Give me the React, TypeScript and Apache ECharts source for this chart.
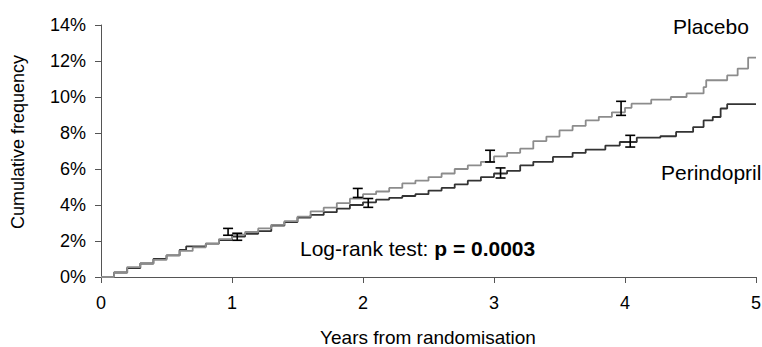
import React, { useEffect, useRef } from "react";
import * as echarts from "echarts";

const xTicks = [0, 1, 2, 3, 4, 5];

const placeboTimes = [0, 0.1, 0.2, 0.3, 0.4, 0.5, 0.6, 0.7, 0.8, 0.9, 1.0, 1.1, 1.2, 1.3, 1.4, 1.5, 1.6, 1.7, 1.8, 1.9, 2.0, 2.1, 2.2, 2.3, 2.4, 2.5, 2.6, 2.7, 2.8, 2.9, 3.0, 3.1, 3.2, 3.3, 3.4, 3.5, 3.6, 3.7, 3.8, 3.9, 4.0, 4.05, 4.2, 4.35, 4.47, 4.6, 4.62, 4.78, 4.86, 4.94, 5.0];
const placeboValues = [0, 0.25, 0.55, 0.75, 0.95, 1.2, 1.45, 1.65, 1.85, 2.1, 2.35, 2.5, 2.7, 2.9, 3.1, 3.35, 3.65, 3.85, 4.1, 4.35, 4.6, 4.75, 4.95, 5.2, 5.35, 5.55, 5.75, 6.0, 6.2, 6.4, 6.7, 6.9, 7.13, 7.55, 7.8, 8.15, 8.4, 8.7, 8.9, 9.15, 9.4, 9.63, 9.85, 10.0, 10.2, 10.55, 10.93, 11.2, 11.58, 12.19, 12.19];

const perindoprilTimes = [0, 0.1, 0.2, 0.3, 0.4, 0.5, 0.6, 0.65, 0.8, 0.9, 1.0, 1.1, 1.2, 1.3, 1.4, 1.5, 1.6, 1.7, 1.8, 1.9, 2.0, 2.1, 2.2, 2.3, 2.4, 2.5, 2.6, 2.7, 2.8, 2.9, 3.0, 3.1, 3.2, 3.3, 3.45, 3.6, 3.7, 3.85, 3.96, 4.09, 4.27, 4.39, 4.52, 4.6, 4.67, 4.73, 4.78, 5.0];
const perindoprilValues = [0, 0.25, 0.5, 0.75, 1.0, 1.2, 1.5, 1.7, 1.85, 2.05, 2.25, 2.4, 2.55, 2.85, 3.05, 3.3, 3.45, 3.6, 3.8, 4.0, 4.15, 4.3, 4.4, 4.5, 4.6, 4.8, 4.95, 5.15, 5.35, 5.55, 5.75, 5.9, 6.2, 6.4, 6.67, 6.9, 7.08, 7.3, 7.5, 7.74, 7.82, 8.06, 8.33, 8.7, 8.89, 9.36, 9.6, 9.6];

// error bars: x position, lower, upper (%)
const placeboBarX = [0.97, 1.96, 2.97, 3.97];
const placeboBarLow = [2.32, 4.42, 6.39, 8.98];
const placeboBarHigh = [2.7, 4.92, 7.04, 9.76];

const perindoprilBarX = [1.04, 2.04, 3.05, 4.04];
const perindoprilBarLow = [2.04, 3.87, 5.5, 7.22];
const perindoprilBarHigh = [2.43, 4.36, 6.06, 7.87];

const FONT = "'Liberation Sans', Arial, sans-serif";

export default function App() {
  const ref = useRef<HTMLDivElement>(null);
  useEffect(() => {
    if (!ref.current) return;
    const chart = echarts.init(ref.current, null, { renderer: "svg" });

    const placeboData = placeboTimes.map((t, i) => [t, placeboValues[i]]);
    const perinData = perindoprilTimes.map((t, i) => [t, perindoprilValues[i]]);
    const barData = [
      ...placeboBarX.map((x, i) => [x, placeboBarLow[i], placeboBarHigh[i]]),
      ...perindoprilBarX.map((x, i) => [x, perindoprilBarLow[i], perindoprilBarHigh[i]]),
    ];

    const renderBar = (params: any, api: any) => {
      const x = api.value(0);
      const lo = api.coord([x, api.value(1)]);
      const hi = api.coord([x, api.value(2)]);
      const w = 5;
      const style = { stroke: "#000", lineWidth: 1.6 };
      return {
        type: "group",
        children: [
          { type: "line", shape: { x1: lo[0], y1: lo[1], x2: hi[0], y2: hi[1] }, style },
          { type: "line", shape: { x1: lo[0] - w, y1: lo[1], x2: lo[0] + w, y2: lo[1] }, style },
          { type: "line", shape: { x1: hi[0] - w, y1: hi[1], x2: hi[0] + w, y2: hi[1] }, style },
        ],
      };
    };

    chart.setOption({
      animation: false,
      backgroundColor: "#fff",
      textStyle: { fontFamily: FONT },
      grid: { left: 101, right: 6, top: 25, bottom: 70, containLabel: false, outerBoundsMode: "none" },
      xAxis: {
        type: "value",
        min: 0,
        max: 5,
        interval: 1,
        axisLine: { show: true, lineStyle: { color: "#555", width: 1 } },
        axisTick: { show: true, length: 6, inside: false, lineStyle: { color: "#555" } },
        axisLabel: {
          fontSize: 18,
          color: "#000",
          margin: 17,
          fontFamily: FONT,
          formatter: (v: number) => (xTicks.includes(v) ? String(v) : ""),
        },
        splitLine: { show: false },
      },
      yAxis: {
        type: "value",
        min: 0,
        max: 14,
        interval: 2,
        axisLine: { show: true, lineStyle: { color: "#555", width: 1 } },
        axisTick: { show: true, length: 6, lineStyle: { color: "#555" } },
        axisLabel: { fontSize: 18, color: "#000", margin: 15, formatter: "{value}%", fontFamily: FONT },
        splitLine: { show: false },
      },
      series: [
        {
          type: "line",
          name: "Perindopril",
          step: "end",
          data: perinData,
          showSymbol: false,
          lineStyle: { color: "#333", width: 1.8 },
          z: 2,
        },
        {
          type: "line",
          name: "Placebo",
          step: "end",
          data: placeboData,
          showSymbol: false,
          lineStyle: { color: "#8c8c8c", width: 1.8 },
          z: 3,
        },
        {
          type: "custom",
          name: "CI",
          renderItem: renderBar,
          data: barData,
          z: 5,
        },
      ],
      graphic: [
        {
          type: "text",
          x: 18,
          y: 142,
          rotation: Math.PI / 2,
          style: {
            text: "Cumulative frequency",
            fontSize: 18,
            fontFamily: FONT,
            fill: "#000",
            align: "center",
            verticalAlign: "middle",
          },
        },
        {
          type: "text",
          x: 428,
          y: 337,
          style: {
            text: "Years from randomisation",
            fontSize: 19,
            fontFamily: FONT,
            fill: "#000",
            align: "center",
            verticalAlign: "middle",
          },
        },
        {
          type: "text",
          x: 673,
          y: 26,
          style: { text: "Placebo", fontSize: 21, fontFamily: FONT, fill: "#000", align: "left", verticalAlign: "middle" },
        },
        {
          type: "text",
          x: 661,
          y: 172,
          style: { text: "Perindopril", fontSize: 21, fontFamily: FONT, fill: "#000", align: "left", verticalAlign: "middle" },
        },
        {
          type: "text",
          x: 300,
          y: 248,
          style: {
            text: "{n|Log-rank test: }{b|p = 0.0003}",
            fontFamily: FONT,
            align: "left",
            verticalAlign: "middle",
            rich: {
              n: { fontSize: 21, fontFamily: FONT, fill: "#000", color: "#000" },
              b: { fontSize: 21, fontFamily: FONT, fontWeight: "bold", fill: "#000", color: "#000" },
            },
          },
        },
      ],
    });
    return () => chart.dispose();
  }, []);
  return (
    <div
      ref={ref}
      style={{ position: "fixed", left: 0, top: 0, width: 762, height: 347, background: "#fff" }}
    />
  );
}
